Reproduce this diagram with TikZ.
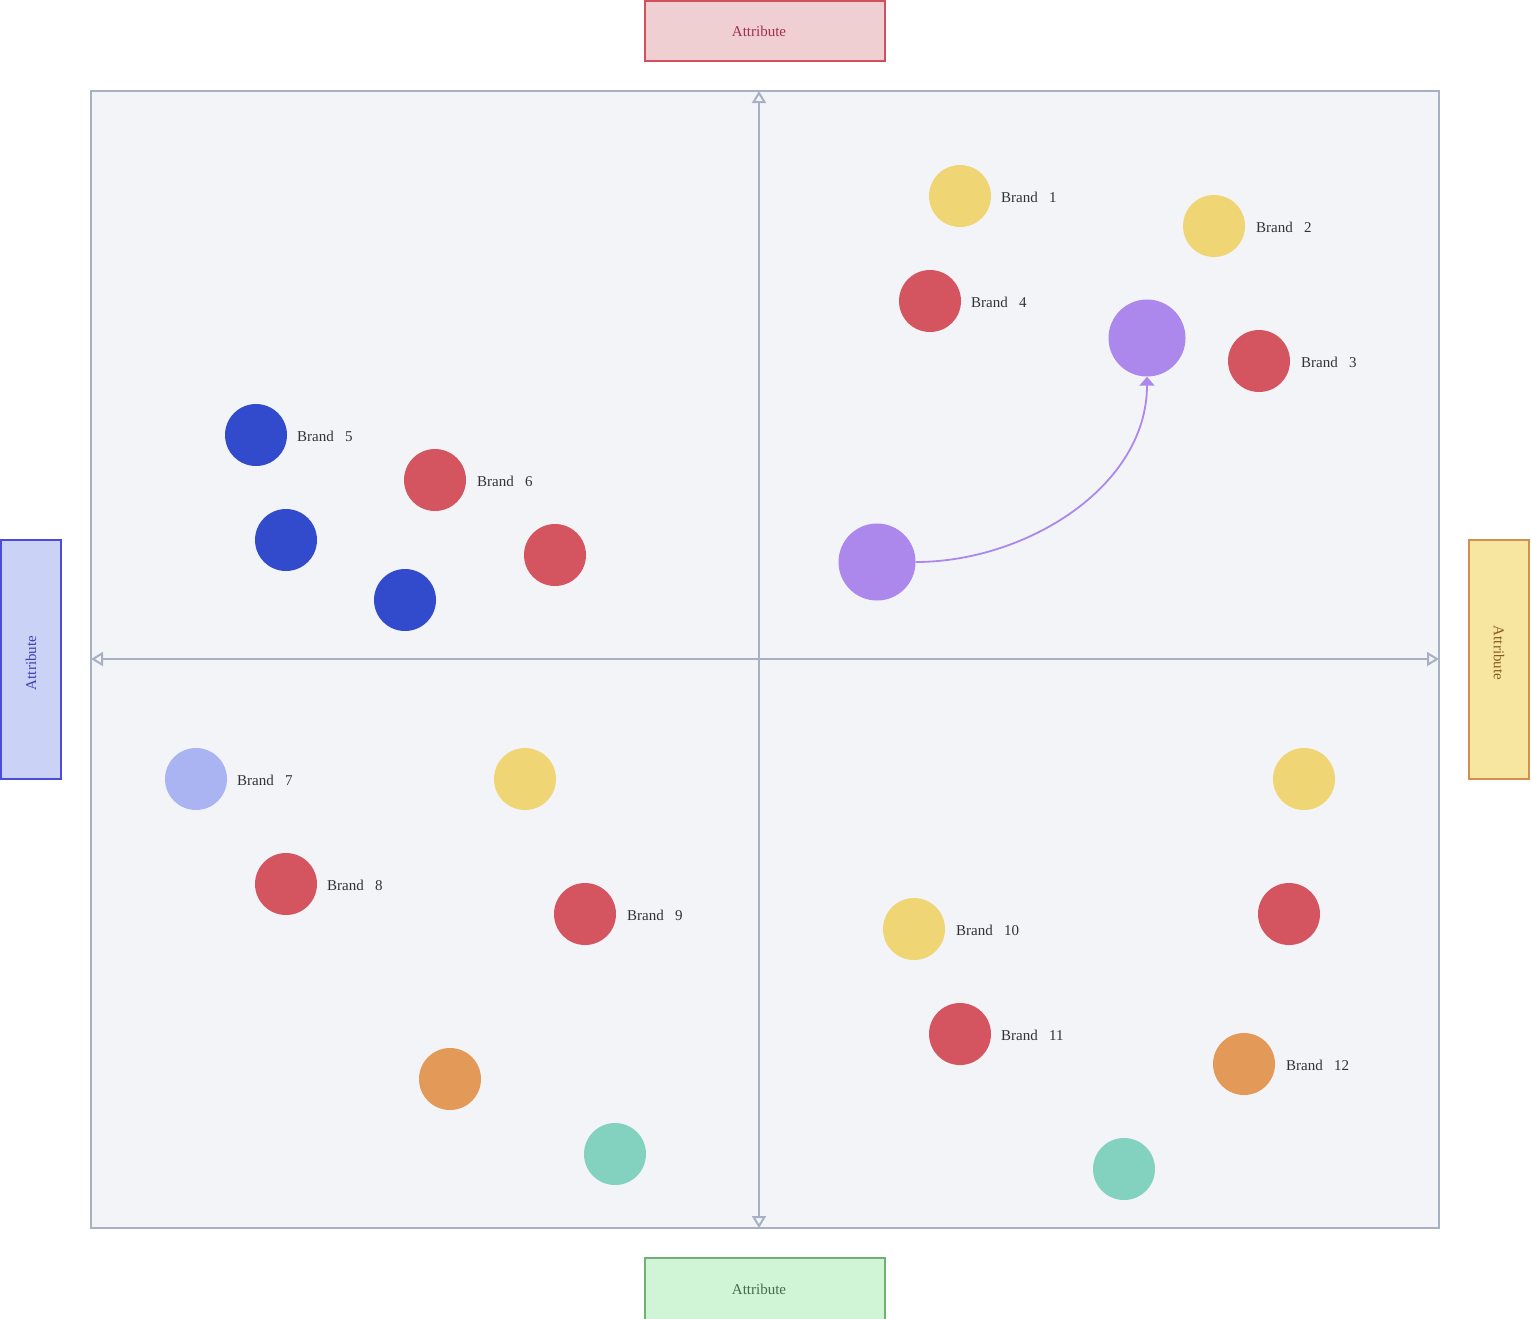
\documentclass[tikz,border=0pt]{standalone}
\usepackage{fontspec}
\setmainfont{Liberation Serif}
\usetikzlibrary{arrows.meta}
\definecolor{panelfill}{HTML}{F2F4F8}
\definecolor{panelline}{HTML}{A8B0C4}
\definecolor{cyellow}{HTML}{F0D574}
\definecolor{cred}{HTML}{D45560}
\definecolor{cblue}{HTML}{324BCD}
\definecolor{clblue}{HTML}{AAB4F2}
\definecolor{cpurple}{HTML}{AC88EC}
\definecolor{corange}{HTML}{E39A58}
\definecolor{cteal}{HTML}{83D1BF}
\definecolor{labtext}{HTML}{333333}
\definecolor{topline}{HTML}{D0505E}
\definecolor{topfill}{HTML}{F0CFD3}
\definecolor{toptext}{HTML}{A0304A}
\definecolor{botline}{HTML}{70B070}
\definecolor{botfill}{HTML}{D0F4D6}
\definecolor{bottext}{HTML}{4A6A4A}
\definecolor{leftline}{HTML}{4B4BDC}
\definecolor{leftfill}{HTML}{CAD2F5}
\definecolor{lefttext}{HTML}{4040B0}
\definecolor{rightline}{HTML}{D09050}
\definecolor{rightfill}{HTML}{F6E6A0}
\definecolor{righttext}{HTML}{8A5A20}
\tikzset{
  dot/.style={circle, minimum size=62pt, inner sep=0pt, fill=#1},
  bigdot/.style={circle, minimum size=77pt, inner sep=0pt, fill=#1},
  brand/.style={anchor=west, text=labtext, font=\fontsize{15}{17}\selectfont, inner sep=0pt},
  attr/.style={draw=#1line, fill=#1fill, text=#1text, line width=2pt, inner sep=0pt, font=\fontsize{15}{17}\selectfont},
  axis/.style={draw=panelline, line width=2pt, {Triangle[open, length=12pt, width=14pt]}-{Triangle[open, length=12pt, width=14pt]}},
}
\newcommand{\attrtext}[1]{\hspace*{#1}Attribute}
\begin{document}
\begin{tikzpicture}[x=1pt, y=-1pt]
\useasboundingbox (0,0) rectangle (1531,1318);
% quadrant panel
\node[draw=panelline, fill=panelfill, line width=2pt, minimum width=1348pt, minimum height=1137pt, inner sep=0pt] (panel) at (765,659.5) {};
% axis end points
\coordinate (axT) at (759,91);
\coordinate (axB) at (759,1228);
\coordinate (axL) at (91,659);
\coordinate (axR) at (1439,659);
\draw[axis] (axB) -- (axT);
\draw[axis] (axL) -- (axR);
% attribute boxes
\node[attr=top, minimum width=240pt, minimum height=60pt] (attrT) at (765,31) {\attrtext{-12pt}};
\node[attr=bot, minimum width=240pt, minimum height=62pt] (attrB) at (765,1289) {\attrtext{-12pt}};
\node[attr=left, minimum width=239pt, minimum height=60pt, rotate=90] (attrL) at (31,659.5) {\attrtext{-7pt}};
\node[attr=right, minimum width=239pt, minimum height=60pt, rotate=-90] (attrR) at (1499,659.5) {\attrtext{-13pt}};
% upper right quadrant
\node[dot=cyellow] (b1) at (960,196) {};
\node[brand] (l1) at (1001,197) {Brand\ \ \ 1};
\node[dot=cyellow] (b2) at (1214,226) {};
\node[brand] (l2) at (1256,227) {Brand\ \ \ 2};
\node[dot=cred] (b4) at (930,301) {};
\node[brand] (l4) at (971,302) {Brand\ \ \ 4};
\node[dot=cred] (b3) at (1259,361) {};
\node[brand] (l3) at (1301,362) {Brand\ \ \ 3};
\node[bigdot=cpurple] (pEnd) at (1147,338) {};
\node[bigdot=cpurple] (pStart) at (877,562) {};
\draw[cpurple, line width=1.8pt, -{Triangle[length=9pt, width=15pt]}] (pStart.east) to[out=0, in=-90, looseness=0.95] (pEnd.south);
% upper left quadrant
\node[dot=cblue] (b5) at (256,435) {};
\node[brand] (l5) at (297,436) {Brand\ \ \ 5};
\node[dot=cred] (b6) at (435,480) {};
\node[brand] (l6) at (477,481) {Brand\ \ \ 6};
\node[dot=cblue] (u1) at (286,540) {};
\node[dot=cred] (u2) at (555,555) {};
\node[dot=cblue] (u3) at (405,600) {};
% lower left quadrant
\node[dot=clblue] (b7) at (196,779) {};
\node[brand] (l7) at (237,780) {Brand\ \ \ 7};
\node[dot=cyellow] (u4) at (525,779) {};
\node[dot=cred] (b8) at (286,884) {};
\node[brand] (l8) at (327,885) {Brand\ \ \ 8};
\node[dot=cred] (b9) at (585,914) {};
\node[brand] (l9) at (627,915) {Brand\ \ \ 9};
\node[dot=corange] (u5) at (450,1079) {};
\node[dot=cteal] (u6) at (615,1154) {};
% lower right quadrant
\node[dot=cyellow] (u7) at (1304,779) {};
\node[dot=cred] (u8) at (1289,914) {};
\node[dot=cyellow] (b10) at (914,929) {};
\node[brand] (l10) at (956,930) {Brand\ \ \ 10};
\node[dot=cred] (b11) at (960,1034) {};
\node[brand] (l11) at (1001,1035) {Brand\ \ \ 11};
\node[dot=corange] (b12) at (1244,1064) {};
\node[brand] (l12) at (1286,1065) {Brand\ \ \ 12};
\node[dot=cteal] (u9) at (1124,1169) {};
\end{tikzpicture}
\end{document}
